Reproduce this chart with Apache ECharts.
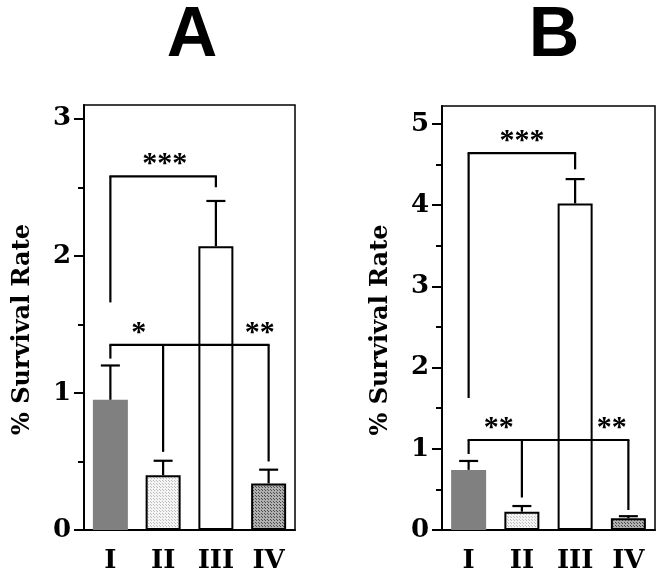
<!DOCTYPE html>
<html><head><meta charset="utf-8">
<script src="https://cdn.jsdelivr.net/npm/echarts@6/dist/echarts.min.js"></script>
<style>html,body{margin:0;padding:0;background:#fff}#c{width:665px;height:581px}</style>
</head><body><div id="c"></div>
<script>
// ---- data ----
const categories = ['I', 'II', 'III', 'IV'];
const panelTitles = ['A', 'B'];
const axisName = '% Survival Rate';
const meanA = [0.95, 0.40, 2.07, 0.34];
const upperA = [1.20, 0.505, 2.40, 0.44];
const meanB = [0.74, 0.225, 4.02, 0.145];
const upperB = [0.85, 0.295, 4.32, 0.17];
const yMaxA = 3.1;
const yMaxB = 5.22;
const yTicksA = [0, 1, 2, 3];
const yTicksB = [0, 1, 2, 3, 4, 5];
const yMinorA = [0.5, 1.5, 2.5];
const yMinorB = [0.5, 1.5, 2.5, 3.5, 4.5];
// significance brackets: level, legs [category index, leg bottom], labels [text, category position]
const bracketsA = [
  { y: 2.58, legs: [[0, 1.66], [2, 2.50]], labels: [['***', 1.03]] },
  { y: 1.35, legs: [[0, 1.25], [1, 0.57], [3, 0.50]], labels: [['*', 0.54], ['**', 2.83]] }
];
const bracketsB = [
  { y: 4.64, legs: [[0, 1.625], [2, 4.44]], labels: [['***', 1.0]] },
  { y: 1.108, legs: [[0, 0.936], [1, 0.40], [3, 0.246]], labels: [['**', 0.565], ['**', 2.69]] }
];

// ---- styles ----
function makePattern(bg, dot, step) {
  const c = document.createElement('canvas');
  c.width = step; c.height = step;
  const g = c.getContext('2d');
  g.fillStyle = bg; g.fillRect(0, 0, step, step);
  g.fillStyle = dot; g.fillRect(0, 0, 1, 1);
  g.fillRect(Math.floor(step / 2), Math.floor(step / 2), 1, 1);
  return { image: c, repeat: 'repeat' };
}
const barStyles = [
  { color: '#808080', borderWidth: 0 },
  { color: makePattern('#f4f4f4', '#bdbdbd', 3), borderColor: '#000', borderWidth: 2 },
  { color: '#ffffff', borderColor: '#000', borderWidth: 2 },
  { color: makePattern('#b0b0b0', '#4a4a4a', 3), borderColor: '#000', borderWidth: 2 }
];
const serif = 'DejaVu Serif';
const gridsPx = [
  { left: 84, top: 105, width: 211, height: 425 },
  { left: 442, top: 106, width: 213, height: 424 }
];
const titlePos = [187, 549];

const panels = [
  { mean: meanA, upper: upperA, max: yMaxA, ticks: yTicksA, minor: yMinorA, brackets: bracketsA },
  { mean: meanB, upper: upperB, max: yMaxB, ticks: yTicksB, minor: yMinorB, brackets: bracketsB }
];

const option = {
  animation: false,
  backgroundColor: '#fff',
  title: panelTitles.map((t, i) => ({
    text: t, left: titlePos[i], top: -3, textAlign: 'center',
    textStyle: { fontSize: 70, fontWeight: 'bold', fontFamily: 'Liberation Sans', color: '#000' }
  })),
  grid: gridsPx.map(g => Object.assign({ show: true, borderColor: '#000', borderWidth: 1.5, backgroundColor: 'transparent' }, g)),
  xAxis: [],
  yAxis: [],
  series: []
};

panels.forEach((p, i) => {
  option.xAxis.push({
    type: 'category', gridIndex: i, data: categories,
    axisLine: { lineStyle: { color: '#000', width: 2 } },
    axisTick: { alignWithLabel: true, length: 10, lineStyle: { color: '#000', width: 2 } },
    axisLabel: { color: '#000', fontFamily: serif, fontWeight: 'bold', fontSize: 26, margin: 18 }
  });
  option.yAxis.push({
    type: 'value', gridIndex: i, min: 0, max: p.max,
    name: axisName, nameLocation: 'middle', nameRotate: 90, nameGap: 49,
    nameTextStyle: { color: '#000', fontFamily: serif, fontWeight: 'bold', fontSize: 24, padding: [0, 24, 0, 0] },
    axisLine: { show: true, lineStyle: { color: '#000', width: 2 } },
    axisTick: { show: true, customValues: p.ticks, length: 10, lineStyle: { color: '#000', width: 2 } },
    axisLabel: { customValues: p.ticks, color: '#000', fontFamily: serif, fontWeight: 'bold', fontSize: 26, margin: 13 },
    splitLine: { show: false }
  });
  option.yAxis.push({
    type: 'value', gridIndex: i, min: 0, max: p.max, position: 'left',
    axisLine: { show: false },
    axisTick: { show: true, customValues: p.minor, length: 6, lineStyle: { color: '#000', width: 2 } },
    axisLabel: { show: false }, splitLine: { show: false }
  });
  const yIdx = i * 2;
  option.series.push({
    type: 'bar', xAxisIndex: i, yAxisIndex: yIdx, barWidth: 35, z: 2,
    data: p.mean.map((v, k) => ({ value: v, itemStyle: barStyles[k] }))
  });
  // error bars
  option.series.push({
    type: 'custom', xAxisIndex: i, yAxisIndex: yIdx, z: 3,
    data: p.mean.map((v, k) => [k, v, p.upper[k]]),
    renderItem: function (params, api) {
      const a = api.coord([api.value(0), api.value(1)]);
      const b = api.coord([api.value(0), api.value(2)]);
      const st = { stroke: '#000', lineWidth: 2.2 };
      return { type: 'group', children: [
        { type: 'line', shape: { x1: a[0], y1: a[1], x2: b[0], y2: b[1] }, style: st },
        { type: 'line', shape: { x1: b[0] - 9.5, y1: b[1], x2: b[0] + 9.5, y2: b[1] }, style: st }
      ] };
    }
  });
  // significance brackets
  option.series.push({
    type: 'custom', xAxisIndex: i, yAxisIndex: yIdx, z: 4,
    data: p.brackets.map((br, k) => [k, br.y]),
    renderItem: function (params, api) {
      const br = p.brackets[api.value(0)];
      const st = { stroke: '#000', lineWidth: 2.2 };
      const idxs = br.legs.map(l => l[0]);
      const x0 = api.coord([Math.min(...idxs), br.y]);
      const x1 = api.coord([Math.max(...idxs), br.y]);
      const c0 = api.coord([0, 0])[0], c1 = api.coord([1, 0])[0];
      const children = [
        { type: 'line', shape: { x1: x0[0] - 1, y1: x0[1], x2: x1[0] + 1, y2: x1[1] }, style: st }
      ];
      br.legs.forEach(l => {
        const top = api.coord([l[0], br.y]);
        const bot = api.coord([l[0], l[1]]);
        children.push({ type: 'line', shape: { x1: top[0], y1: top[1], x2: bot[0], y2: bot[1] }, style: st });
      });
      br.labels.forEach(lb => {
        children.push({ type: 'text', x: c0 + (c1 - c0) * lb[1], y: x0[1] + 3,
          style: { text: lb[0], fill: '#000', font: 'bold 30px "Liberation Serif"', align: 'center', verticalAlign: 'bottom' } });
      });
      return { type: 'group', children: children };
    }
  });
});

const chart = echarts.init(document.getElementById('c'), null, { renderer: 'canvas' });
chart.setOption(option);
</script></body></html>
